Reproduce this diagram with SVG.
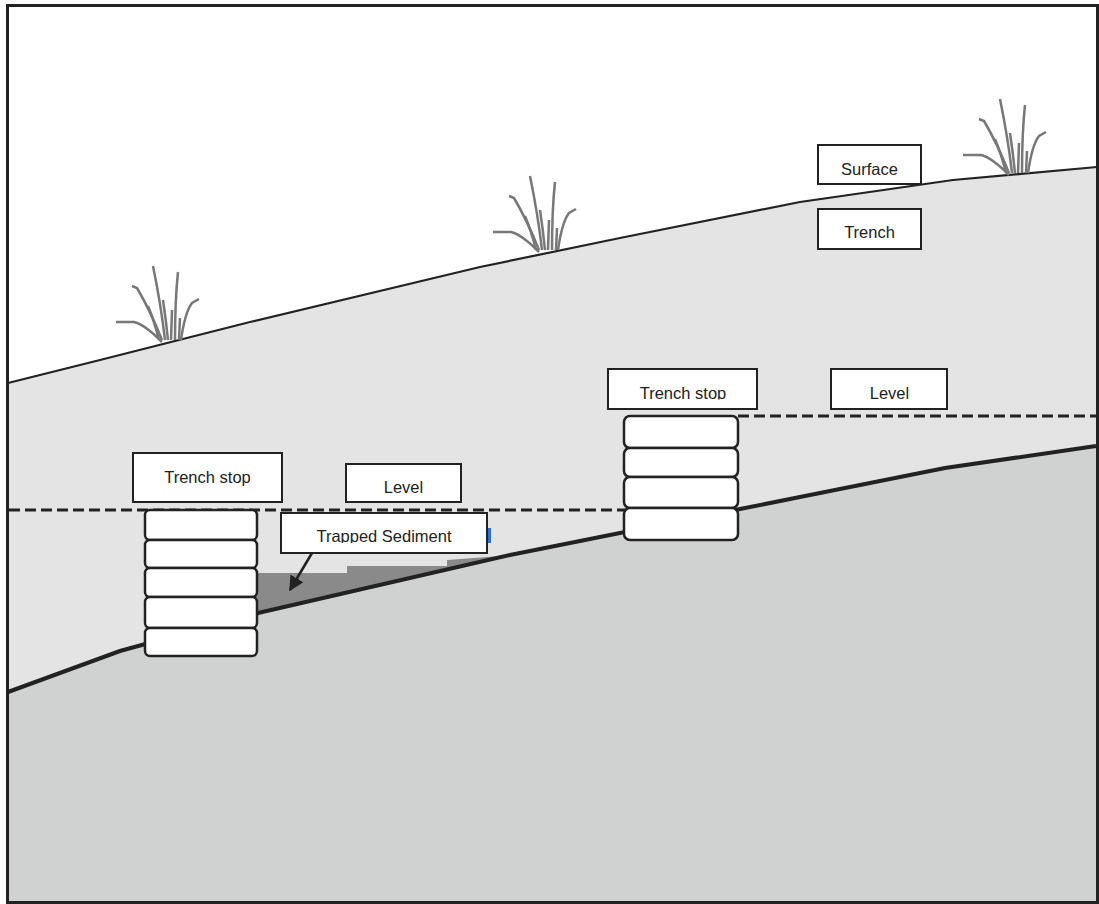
<svg xmlns="http://www.w3.org/2000/svg" width="1099" height="904" viewBox="0 0 1099 904">
  <style>
    .label-box { fill: #ffffff; stroke: #222222; stroke-width: 2; }
    .label { font-family: "Liberation Sans", Arial, sans-serif; font-size: 16.5px; fill: #222222; text-anchor: middle; }
    .block { fill: #ffffff; stroke: #222222; stroke-width: 2.5; }
    .level { fill: none; stroke: #222222; stroke-width: 3; stroke-dasharray: 11 5; }
    .blade { fill: none; stroke: #787878; stroke-width: 2.5; stroke-linecap: butt; }
  </style>
  <defs>
    <marker id="arrowhead" viewBox="0 0 10 10" refX="9" refY="5" markerWidth="6" markerHeight="6" orient="auto">
      <path d="M0,0 L10,5 L0,10 z" fill="#222222"/>
    </marker>
    <clipPath id="clip-stop-right"><rect x="609" y="370" width="147" height="29.5"/></clipPath>
    <clipPath id="clip-sediment"><rect x="282" y="514" width="204" height="29"/></clipPath>
    <g id="tuft">
      <path class="blade" d="M-5,0 Q-9,-35 -17,-74"/>
      <path class="blade" d="M5,0 Q5,-40 8,-68"/>
      <path class="blade" d="M-8,0 Q-20,-30 -33,-52 L-38,-54"/>
      <path class="blade" d="M-8,2 Q-26,-16 -36,-18 L-54,-18"/>
      <path class="blade" d="M11,0 Q15,-28 22,-37 L29,-41"/>
      <path class="blade" d="M-2,0 Q-4,-20 -7,-40"/>
      <path class="blade" d="M-11,0 Q-16,-20 -22,-34"/>
      <path class="blade" d="M9,0 L10,-22"/>
      <path class="blade" d="M1,0 L2,-30"/>
    </g>
  </defs>

  <!-- sky -->
  <rect x="0" y="0" width="1099" height="904" fill="#ffffff"/>

  <!-- soil above the trench floor -->
  <polygon fill="#e4e4e4" points="8,383 100,360 250,322 480,267 620,238 800,202 953,180 1097,167 1097,904 8,904"/>

  <!-- trapped sediment wedge -->
  <polygon fill="#8a8a8a" points="252,573 347,573 347,566 447,566 447,560 500,556 258,614 252,614"/>

  <!-- undisturbed ground below the trench floor -->
  <polygon fill="#d0d2d1" points="8,692 120,651 258,613 510,555 625,532 740,509 800,497 945,468 1096,446 1096,904 8,904"/>

  <g id="connectors">
    <!-- trench floor -->
    <polyline fill="none" stroke="#222222" stroke-width="4" points="8,692 120,651 258,613 510,555 625,532 740,509 800,497 945,468 1096,446"/>
    <!-- ground surface -->
    <polyline fill="none" stroke="#222222" stroke-width="2.2" points="8,383 100,360 250,322 480,267 620,238 800,202 953,180 1097,167"/>
    <!-- water levels -->
    <line class="level" x1="9" y1="510" x2="625" y2="510"/>
    <line class="level" x1="738" y1="416" x2="1096" y2="416"/>
    <!-- pointer to the sediment -->
    <line x1="312" y1="553" x2="290" y2="590" stroke="#222222" stroke-width="2.5" marker-end="url(#arrowhead)"/>
  </g>

  <!-- grass tufts on the surface -->
  <g id="grass">
    <use href="#tuft" x="170" y="340"/>
    <use href="#tuft" x="547" y="250"/>
    <use href="#tuft" x="1017" y="173"/>
  </g>

  <!-- lower trench stop: five stacked bags -->
  <g id="trench-stop-left-bags">
    <rect class="block" x="145" y="510" width="112" height="30" rx="5"/>
    <rect class="block" x="145" y="540" width="112" height="28" rx="5"/>
    <rect class="block" x="145" y="568" width="112" height="29" rx="5"/>
    <rect class="block" x="145" y="597" width="112" height="31" rx="5"/>
    <rect class="block" x="145" y="628" width="112" height="28" rx="5"/>
  </g>

  <!-- upper trench stop: four stacked bags -->
  <g id="trench-stop-right-bags">
    <rect class="block" x="624" y="416" width="114" height="32" rx="6"/>
    <rect class="block" x="624" y="448" width="114" height="29" rx="6"/>
    <rect class="block" x="624" y="477" width="114" height="31" rx="6"/>
    <rect class="block" x="624" y="508" width="114" height="32" rx="6"/>
  </g>

  <g id="label-surface">
    <rect class="label-box" x="818" y="145" width="103" height="39"/>
    <text class="label" x="869.5" y="175">Surface</text>
  </g>
  <g id="label-trench">
    <rect class="label-box" x="818" y="209" width="103" height="40"/>
    <text class="label" x="869.5" y="238">Trench</text>
  </g>
  <g id="label-trench-stop-right">
    <rect class="label-box" x="608" y="369" width="149" height="40"/>
    <text class="label" x="683" y="399" clip-path="url(#clip-stop-right)">Trench stop</text>
  </g>
  <g id="label-level-right">
    <rect class="label-box" x="831" y="369" width="116" height="40"/>
    <text class="label" x="889.5" y="399">Level</text>
  </g>
  <g id="label-trench-stop-left">
    <rect class="label-box" x="133" y="453" width="149" height="49"/>
    <text class="label" x="207.5" y="483">Trench stop</text>
  </g>
  <g id="label-level-left">
    <rect class="label-box" x="346" y="464" width="115" height="38"/>
    <text class="label" x="403.5" y="493">Level</text>
  </g>
  <g id="label-trapped-sediment">
    <rect class="label-box" x="281" y="513" width="206" height="40"/>
    <text class="label" x="384" y="542" clip-path="url(#clip-sediment)">Trapped Sediment</text>
    <rect x="488" y="528" width="3" height="15" fill="#2f6fd0"/>
  </g>

  <!-- frame -->
  <rect x="7.5" y="5.5" width="1090" height="897" fill="none" stroke="#222222" stroke-width="3"/>
</svg>
